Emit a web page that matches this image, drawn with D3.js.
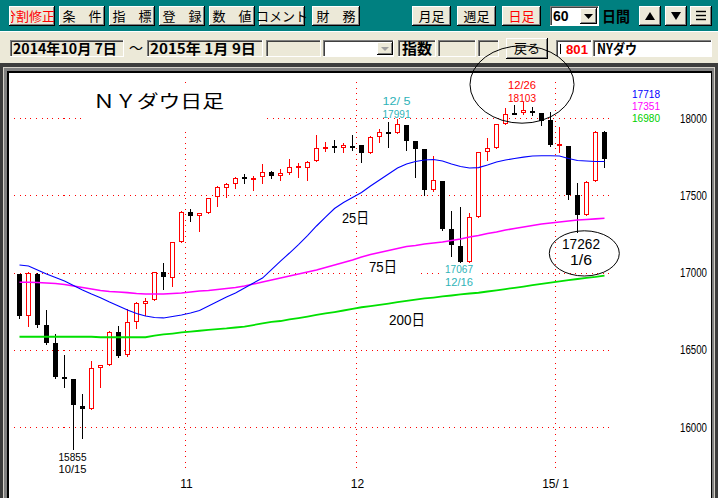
<!DOCTYPE html>
<html><head><meta charset="utf-8">
<script src="https://cdn.jsdelivr.net/npm/d3@7"></script>
<style>html,body{margin:0;padding:0;background:#fff;overflow:hidden}svg{display:block}</style>
</head><body><div id="chart"></div>
<script>
// ---------- data ----------
const dates = ["10/7","10/8","10/9","10/10","10/13","10/14","10/15","10/16","10/17","10/20","10/21","10/22","10/23","10/24","10/27","10/28","10/29","10/30","10/31",
"11/3","11/4","11/5","11/6","11/7","11/10","11/11","11/12","11/13","11/14","11/17","11/18","11/19","11/20","11/21","11/24","11/25","11/26","11/28",
"12/1","12/2","12/3","12/4","12/5","12/8","12/9","12/10","12/11","12/12","12/15","12/16","12/17","12/18","12/19","12/22","12/23","12/24","12/26","12/29","12/30","12/31",
"1/2","1/5","1/6","1/7","1/8","1/9"];
const openV = [16990,16718,16992,16660,16541,16321,16308,16139,16118,16380,
 16401,16615,16466,16677,16796,16819,17005,16966,17196,17390,
 17364,17385,17491,17550,17574,17615,17599,17616,17648,17627,
 17642,17685,17674,17722,17808,17816,17806,17822,17823,17776,
 17879,17912,17903,17957,17852,17801,17534,17595,17281,17174,
 17069,17360,17778,17805,17962,18032,18033,18046,18035,17987,
 17823,17821,17504,17374,17591,17907];
const highV = [16990,17006,16994,16757,16602,16466,16308,16213,16427,16404,
 16621,16652,16762,16806,16835,17006,17059,17195,17395,17411,
 17387,17485,17559,17577,17621,17637,17627,17702,17660,17668,
 17735,17707,17720,17890,17846,17858,17836,17890,17823,17883,
 17927,17976,17991,17957,17852,17801,17754,17595,17398,17425,
 17383,17778,17869,17960,18067,18084,18103,18073,18035,18041,
 17944,17821,17577,17592,17918,17917];
const lowV = [16705,16655,16650,16540,16315,16262,15855,15930,16118,16258,
 16401,16455,16462,16643,16725,16819,16891,16914,17196,17335,
 17270,17385,17432,17486,17545,17577,17534,17577,17610,17599,
 17636,17620,17599,17722,17788,17782,17782,17793,17717,17776,
 17847,17810,17900,17793,17620,17502,17525,17275,17107,17067,
 17069,17360,17728,17805,17962,18027,18029,18021,17955,17820,
 17782,17473,17262,17374,17591,17680];
const closeV = [16719,16994,16659,16544,16321,16315,16142,16117,16380,16400,
 16615,16461,16678,16805,16818,17006,16974,17195,17390,17366,
 17384,17485,17554,17574,17614,17614,17612,17648,17627,17642,
 17685,17687,17716,17808,17812,17814,17826,17820,17776,17879,
 17912,17900,17958,17852,17801,17533,17596,17281,17181,17069,
 17357,17778,17805,17959,18024,18030,18054,18038,17983,17823,
 17833,17502,17372,17585,17908,17737];
const ma25 = [17049,17042,17016,16990,16968,16945,16916,16887,16861,16837,
 16809,16783,16757,16735,16718,16709,16706,16715,16725,16738,
 16754,16783,16812,16841,16867,16900,16932,16964,17019,17074,
 17126,17181,17239,17301,17359,17414,17453,17485,17518,17560,
 17599,17637,17676,17702,17718,17728,17731,17722,17702,17686,
 17676,17679,17696,17715,17728,17738,17747,17754,17756,17756,
 17754,17738,17725,17722,17718,17718];
const ma75 = [16937,16937,16935,16932,16929,16922,16913,16903,16893,16883,
 16877,16874,16870,16864,16861,16861,16861,16864,16867,16874,
 16880,16883,16890,16896,16903,16913,16925,16938,16951,16964,
 16977,16990,17003,17016,17032,17048,17065,17081,17100,17116,
 17129,17142,17155,17168,17175,17184,17191,17197,17207,17217,
 17230,17239,17252,17262,17275,17285,17294,17304,17314,17320,
 17327,17333,17340,17343,17347,17351];
const ma200 = [16584,16584,16584,16584,16584,16584,16584,16584,16584,16581,
 16581,16581,16581,16581,16581,16592,16599,16605,16612,16617,
 16623,16628,16634,16638,16644,16650,16660,16670,16680,16686,
 16696,16705,16715,16725,16735,16744,16754,16765,16775,16783,
 16791,16799,16808,16817,16825,16832,16838,16845,16851,16858,
 16864,16869,16877,16885,16893,16901,16909,16918,16927,16935,
 16943,16950,16958,16965,16971,16980];
const maLabels = ["25日","75日","200日"];
const maLast = ["17718","17351","16980"];
const yTicks = [16000,16500,17000,17500,18000];
const monthStarts = [19,38,60];
const monthLabels = ["11","12","15/ 1"];

// ---------- setup ----------
const W = 718, H = 498;
const svg = d3.select("#chart").append("svg").attr("width",W).attr("height",H)
  .style("font-family","'Noto Sans CJK JP', sans-serif");
const x = d3.scaleLinear().domain([0,65]).range([19.5,604.5]);
const y = d3.scaleLinear().domain([16000,18000]).range([427,118]);
const NUM = "'Liberation Sans', 'Noto Sans CJK JP', sans-serif";
const CJK = "'Noto Sans CJK JP', sans-serif";
const BG = "#ECE9D8";

// ---------- toolbar ----------
svg.append("rect").attr("x",0).attr("y",0).attr("width",W).attr("height",31).attr("fill","#008080");
svg.append("rect").attr("x",0).attr("y",31).attr("width",W).attr("height",32).attr("fill",BG);
svg.append("line").attr("x1",0).attr("x2",W).attr("y1",31.5).attr("y2",31.5).attr("stroke","#fff");

function raised(x0,y0,w,h){
  const g = svg.append("g").attr("shape-rendering","crispEdges");
  g.append("rect").attr("x",x0).attr("y",y0).attr("width",w).attr("height",h).attr("fill",BG);
  g.append("path").attr("d",`M${x0+0.5},${y0+h}V${y0+0.5}H${x0+w}`).attr("stroke","#fff").attr("fill","none");
  g.append("path").attr("d",`M${x0+1},${y0+h-1.5}H${x0+w-1.5}V${y0+1}`).attr("stroke","#808080").attr("fill","none");
  g.append("path").attr("d",`M${x0},${y0+h-0.5}H${x0+w-0.5}V${y0}`).attr("stroke","#000").attr("fill","none");
  return g;
}
function sunken(x0,y0,w,h,fill){
  const g = svg.append("g").attr("shape-rendering","crispEdges");
  g.append("rect").attr("x",x0).attr("y",y0).attr("width",w).attr("height",h).attr("fill",fill||BG);
  g.append("path").attr("d",`M${x0+0.5},${y0+h}V${y0+0.5}H${x0+w}`).attr("stroke","#808080").attr("fill","none");
  g.append("path").attr("d",`M${x0+1.5},${y0+h-1}V${y0+1.5}H${x0+w-1}`).attr("stroke","#404040").attr("fill","none");
  g.append("path").attr("d",`M${x0},${y0+h-0.5}H${x0+w-0.5}V${y0}`).attr("stroke","#fff").attr("fill","none");
  return g;
}
function label(t,xx,yy,opt){
  opt = opt||{};
  const s = svg.append("text").attr("x",xx).attr("y",yy).text(t)
    .attr("font-size",opt.size||13).attr("fill",opt.color||"#000")
    .attr("font-family",opt.font||CJK)
    .attr("font-weight",opt.weight||"normal")
    .attr("text-anchor",opt.anchor||"start");
  if(opt.len){ s.attr("textLength",opt.len).attr("lengthAdjust","spacingAndGlyphs"); }
  return s;
}
const topButtons = [
  {x:9,w:46,t:"分割修正",c:"#f00"},{x:59,w:46,t:"条　件"},{x:109,w:46,t:"指　標"},
  {x:159,w:46,t:"登　録"},{x:209,w:46,t:"数　値"},{x:259,w:46,t:"コメント"},
  {x:312,w:48,t:"財　務"},{x:412,w:39,t:"月足"},{x:457,w:39,t:"週足"},{x:502,w:39,t:"日足",c:"#f00"}
];
svg.append("clipPath").attr("id","b1clip").append("rect").attr("x",11).attr("y",6).attr("width",43).attr("height",20);
topButtons.forEach((b,i)=>{
  raised(b.x,6,b.w,20);
  const tx = label(b.t,b.x+b.w/2,21,{anchor:"middle",color:b.c||"#000",size:13});
  if(i===0){ tx.attr("x",b.x+b.w/2-3).attr("textLength",52).attr("lengthAdjust","spacingAndGlyphs").attr("clip-path","url(#b1clip)"); }
});
// combo 60
sunken(550,6,49,20,"#fff");
raised(580,8,17,16);
svg.append("path").attr("d","M584,14h9l-4.5,5z").attr("fill","#000");
label("60",553,21,{font:NUM,weight:"bold",size:14});
label("日間",602,22,{weight:"bold",size:15,len:28});
raised(639,6,22,20); svg.append("path").attr("d","M645,20h10l-5,-8z").attr("fill","#000");
raised(665,6,22,20); svg.append("path").attr("d","M671,12h10l-5,8z").attr("fill","#000");
raised(690,6,22,20);
[11.5,15.5,19.5].forEach(yy=>svg.append("line").attr("x1",696).attr("x2",706).attr("y1",yy).attr("y2",yy).attr("stroke","#000").attr("stroke-width",1.4));

// second row
sunken(10,40,114,17); label("2014年10月 7日",13,54,{weight:"bold",size:14,len:104});
label("～",129,53,{size:14});
sunken(147,40,116,17); label("2015年 1月 9日",150,54,{weight:"bold",size:14,len:106});
sunken(266,40,55,17);
sunken(323,40,71,17,"#fff");
raised(377,42,16,13); svg.append("path").attr("d","M381,47h8l-4,4z").attr("fill","#a0a0a0");
sunken(398,40,38,17); label("指数",402,54,{weight:"bold",size:15,len:30});
sunken(438,40,38,17);
sunken(478,40,21,17);
raised(506,38,42,21); label("戻る",527,53,{anchor:"middle",size:13});
sunken(556,40,36,17,"#fff");
svg.append("line").attr("x1",560.5).attr("x2",560.5).attr("y1",44).attr("y2",54).attr("stroke","#000");
label("801",566,54,{font:NUM,weight:"bold",size:13,color:"#f00",len:22});
sunken(593,40,119,17,"#fff"); label("NYダウ",597,54,{weight:"bold",size:14,len:40});

// ---------- chart frame ----------
const fr = svg.append("g").attr("shape-rendering","crispEdges");
fr.append("rect").attr("x",0).attr("y",63).attr("width",W).attr("height",H-63).attr("fill","#3c3c3c");
fr.append("rect").attr("x",3).attr("y",67).attr("width",712).attr("height",H-67).attr("fill","#d4d0c8");
fr.append("rect").attr("x",4).attr("y",68).attr("width",710).attr("height",H-68).attr("fill","#808080");
fr.append("rect").attr("x",7).attr("y",71).attr("width",705).attr("height",H-71).attr("fill","#000");
fr.append("rect").attr("x",9).attr("y",73).attr("width",702).attr("height",H-73).attr("fill","#fff");

// ---------- grid ----------
const grid = svg.append("g").attr("shape-rendering","crispEdges");
grid.selectAll(".hg").data(yTicks).join("line")
  .attr("x1",14).attr("x2",611)
  .attr("y1",d=>Math.round(y(d))+0.5).attr("y2",d=>Math.round(y(d))+0.5)
  .attr("stroke","#f00").attr("stroke-dasharray","1,4.5");
grid.selectAll(".vg").data(monthStarts).join("line")
  .attr("x1",d=>Math.floor(x(d-0.5))+0.5).attr("x2",d=>Math.floor(x(d-0.5))+0.5)
  .attr("y1",82).attr("y2",473)
  .attr("stroke","#f00").attr("stroke-dasharray","1,4.5");

// white label boxes that hide grid
const boxes = [[85,88,178,39],[336,207,40,20],[363,256,55,21],[443,263,34,26]];
boxes.forEach(b=>svg.append("rect").attr("x",b[0]).attr("y",b[1]).attr("width",b[2]).attr("height",b[3]).attr("fill","#fff"));

// axis labels
svg.selectAll(".yl").data(yTicks).join("text")
  .attr("x",707).attr("y",d=>y(d)+4.5).attr("text-anchor","end")
  .attr("font-family",NUM).attr("font-size",12).attr("fill","#000")
  .attr("textLength",27).attr("lengthAdjust","spacingAndGlyphs").text(d=>d);
svg.selectAll(".xl").data(monthStarts).join("text")
  .attr("x",d=>x(d-0.5)+0.5).attr("y",488).attr("text-anchor","middle")
  .attr("font-family",NUM).attr("font-size",12).attr("fill","#000").text((d,i)=>monthLabels[i]);

// ---------- candles ----------
const idx = d3.range(dates.length);
const cg = svg.append("g").attr("shape-rendering","crispEdges");
idx.forEach(i=>{
  const up = closeV[i] > openV[i];
  const col = up ? "#f00" : "#000";
  const cx = x(i);
  const yT = Math.round(y(Math.max(openV[i],closeV[i])));
  const yB = Math.round(y(Math.min(openV[i],closeV[i])));
  cg.append("line").attr("x1",cx).attr("x2",cx)
    .attr("y1",Math.round(y(highV[i]))).attr("y2",Math.round(y(lowV[i]))+1)
    .attr("stroke",col);
  if(up){
    cg.append("rect").attr("x",cx-2).attr("y",yT+0.5).attr("width",4).attr("height",Math.max(1,yB-yT-1))
      .attr("fill","#fff").attr("stroke","#f00");
  } else {
    cg.append("rect").attr("x",cx-2.5).attr("y",yT).attr("width",5).attr("height",Math.max(2,yB-yT))
      .attr("fill","#000");
  }
});

// ---------- moving averages ----------
const line = d3.line().x((d,i)=>x(i)).y(d=>y(d));
svg.append("path").datum(ma200).attr("d",line).attr("fill","none").attr("stroke","#00e000").attr("stroke-width",1.8);
svg.append("path").datum(ma75).attr("d",line).attr("fill","none").attr("stroke","#ff00ff").attr("stroke-width",1.6);
svg.append("path").datum(ma25).attr("d",line).attr("fill","none").attr("stroke","#0000ff").attr("stroke-width",1.1);

// ---------- texts ----------
label("ＮＹダウ日足",93,108,{size:18,len:131});
const maCol = ["#0000ff","#ff00ff","#00d000"];
label(maLabels[0],342,223,{font:NUM,size:15,len:27});
label(maLabels[1],369,272,{font:NUM,size:15,len:28});
label(maLabels[2],389,325,{font:NUM,size:15,len:36});
maLast.forEach((t,i)=>label(t,632,97.5+i*12,{font:NUM,size:10.5,color:maCol[i],len:28}));

const teal = "#2fb3b8";
const sm = {font:NUM,size:11,anchor:"middle",len:28};
label(dates[42].replace("/","/ "),x(42)-1,105,Object.assign({},sm,{color:teal}));
label(String(highV[42]),x(42)-1,117.7,Object.assign({},sm,{color:teal}));
label(dates[56],x(56)-1.5,89.3,Object.assign({},sm,{color:"#f00"}));
label(String(highV[56]),x(56)-1.5,102,Object.assign({},sm,{color:"#f00"}));
label(String(lowV[49]),x(49)-1.5,273,Object.assign({},sm,{color:teal}));
label(dates[49],x(49)-1.5,285.7,Object.assign({},sm,{color:teal}));
label(String(lowV[6]),x(6)-1,460.5,sm);
label(dates[6],x(6)-1,473.2,sm);
label(String(lowV[62]),x(62)+3.5,248.5,{font:NUM,size:14,anchor:"middle",len:38});
label(dates[62],x(62)+3.5,264.8,{font:NUM,size:14,anchor:"middle",len:22});

// ---------- ellipses ----------
svg.append("ellipse").attr("cx",522).attr("cy",84.5).attr("rx",52).attr("ry",38.7)
  .attr("fill","none").attr("stroke","#000").attr("stroke-width",1);
svg.append("ellipse").attr("cx",584.3).attr("cy",253.4).attr("rx",35).attr("ry",22.6)
  .attr("fill","none").attr("stroke","#000").attr("stroke-width",1);
</script>
</body></html>
